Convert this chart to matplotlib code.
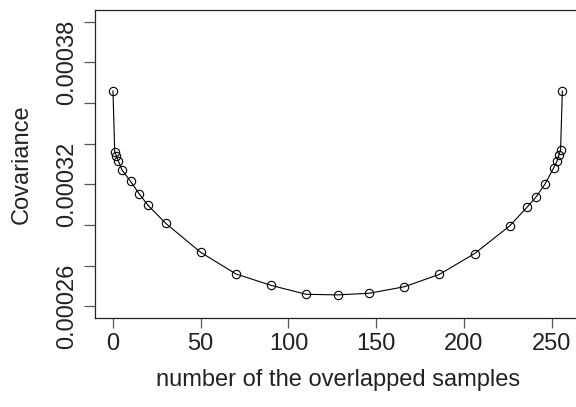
import numpy as np
import matplotlib
matplotlib.use('Agg')
import matplotlib.pyplot as plt

plt.rcParams['font.family'] = ['Liberation Sans', 'DejaVu Sans']

# number of overlapped samples and covariance
overlap = [0, 1, 2, 3, 5, 10, 15, 20, 30, 50, 70, 90, 110, 128,
           146, 166, 186, 206, 226, 236, 241, 246, 251, 253, 254, 255, 256]
covariance = [0.0003659, 0.0003361, 0.0003339, 0.0003317, 0.0003273,
              0.0003215, 0.0003153, 0.0003097, 0.0003009, 0.0002866,
              0.0002760, 0.0002704, 0.0002660, 0.0002657, 0.0002665,
              0.0002697, 0.0002758, 0.0002860, 0.0002996, 0.0003089,
              0.0003138, 0.0003200, 0.0003280, 0.0003315, 0.0003342,
              0.0003370, 0.0003659]

xticks = [0, 50, 100, 150, 200, 250]
yticks = [0.00026, 0.00028, 0.00030, 0.00032, 0.00034, 0.00036, 0.00038, 0.00040]
ylabels = ['0.00026', '', '', '0.00032', '', '', '0.00038', '']

fig = plt.figure(figsize=(5.76, 4.07), dpi=100)
ax = fig.add_axes([0.1649, 0.2187, 0.8426, 0.7568])

ax.plot(overlap, covariance, color='black', lw=0.8, marker='o', ms=6,
        mfc='none', mec='black', mew=0.8)

ax.set_xlim(-10.24, 266.24)
ax.set_ylim(0.00025435, 0.0004057)

ax.set_xticks(xticks)
ax.set_xticklabels([str(t) for t in xticks])
ax.set_yticks(yticks)
ax.set_yticklabels(ylabels, rotation=90, va='center')

for s in ax.spines.values():
    s.set_linewidth(0.9)
    s.set_color('#222222')

fs = 17
ax.tick_params(axis='x', length=7, width=0.9, color='#555555', labelsize=fs,
               pad=3.5, labelcolor='#222222')
ax.tick_params(axis='y', length=8, width=0.9, color='#555555', labelsize=fs,
               pad=4, labelcolor='#222222')

ax.set_xlabel('number of the overlapped samples', fontsize=fs, color='#222222',
              labelpad=10.5)
ax.set_ylabel('Covariance', fontsize=fs, color='#222222', labelpad=17)

fig.savefig('out.png', dpi=100)
